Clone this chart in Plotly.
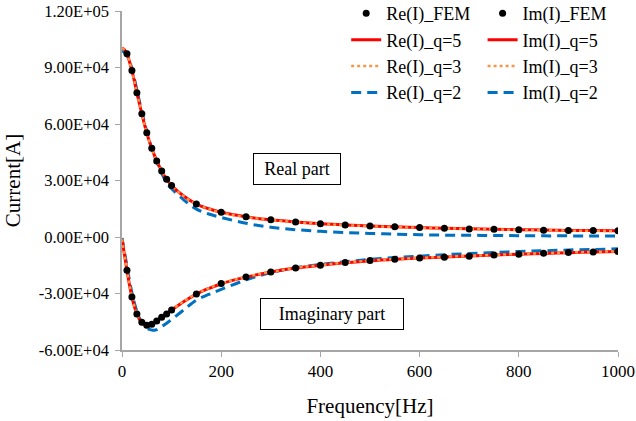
import plotly.graph_objects as go

# FEM sample points
f_fem = [10, 20, 30, 40, 50, 60, 70, 80, 90, 100, 150, 200, 250, 300, 350, 400, 450,
         500, 550, 600, 650, 700, 750, 800, 850, 900, 950, 1000]
re_fem = [97300, 88400, 76600, 65400, 55300, 47100, 40400, 35000, 30700, 27300, 17500,
          13100, 10700, 9100, 8000, 7000, 6400, 5900, 5500, 5000, 4600, 4300, 4100,
          3800, 3600, 3400, 3400, 3300]
im_fem = [-17700, -31900, -40900, -45200, -46800, -46300, -44600, -42600, -40900, -38800,
          -30200, -24700, -21300, -18600, -16400, -15000, -13600, -12500, -11800, -11200,
          -10700, -10200, -9500, -9100, -8600, -8200, -8000, -7700]

# curve frequencies
f_curve = [0, 5, 10, 15, 20, 25, 30, 35, 40, 45, 50, 55, 60, 65, 70, 75, 80, 85, 90, 95, 100,
           125, 150, 175, 200, 250, 300, 350, 400, 450, 500, 550, 600, 650, 700, 750, 800,
           850, 900, 950, 1000]

re_q5 = [100400, 99400, 97300, 93200, 88400, 82600, 76600, 70900, 65400, 60100, 55300,
         50900, 47100, 43600, 40400, 37600, 35000, 32700, 30700, 28900, 27300, 21600, 17500,
         15000, 13100, 10700, 9100, 8000, 7100, 6400, 5900, 5400, 5000, 4700, 4400, 4100,
         3900, 3700, 3500, 3400, 3300]
re_q3 = [100300, 99300, 97200, 93100, 88300, 82500, 76500, 70800, 65300, 60000, 55200,
         50800, 47000, 43500, 40300, 37500, 34900, 32600, 30600, 28800, 27200, 21500, 17400,
         14900, 13000, 10600, 9000, 7900, 7000, 6300, 5800, 5300, 4900, 4600, 4300, 4000,
         3800, 3600, 3400, 3300, 3200]
re_q2 = [98800, 98000, 96500, 93500, 89300, 84000, 78000, 72200, 66500, 61000, 56000,
         51300, 47200, 43400, 40000, 36800, 33900, 31200, 28800, 27000, 25600, 19600, 14800,
         12200, 10400, 7300, 5200, 3900, 3000, 2400, 1900, 1500, 1200, 1000, 900, 800,
         700, 600, 600, 500, 500]

im_q5 = [-1000, -9500, -17700, -25300, -31900, -37000, -40900, -43600, -45300, -46300,
         -46800, -46700, -46300, -45500, -44600, -43600, -42600, -41600, -40700, -39700,
         -38800, -34200, -30300, -27300, -24800, -21300, -18600, -16500, -15000, -13700,
         -12600, -11800, -11200, -10600, -10100, -9600, -9100, -8700, -8300, -8000, -7700]
im_q3 = [-1000, -9400, -17600, -25200, -31800, -36900, -40800, -43500, -45200, -46200,
         -46700, -46600, -46200, -45400, -44500, -43500, -42500, -41500, -40600, -39600,
         -38700, -34100, -30200, -27200, -24700, -21200, -18500, -16400, -14900, -13600,
         -12500, -11700, -11100, -10500, -10000, -9500, -9000, -8600, -8200, -7900, -7600]
im_q2 = [-500, -8000, -15500, -23000, -29500, -35000, -39500, -43000, -45500, -47300,
         -48400, -49100, -49400, -49500, -49200, -48500, -47600, -46700, -45800, -44800,
         -43800, -38600, -33500, -30500, -27800, -22800, -18900, -16300, -14600, -13100,
         -11900, -10900, -10200, -9400, -8800, -8200, -7700, -7300, -6900, -6600, -6300]

ytick_vals = [-60000, -30000, 0, 30000, 60000, 90000, 120000]
ytick_text = ["-6.00E+04", "-3.00E+04", "0.00E+00", "3.00E+04", "6.00E+04", "9.00E+04", "1.20E+05"]
xtick_vals = [0, 200, 400, 600, 800, 1000]

RED = "#FF0000"
ORANGE = "#F79646"
BLUE = "#0070C0"
FONT = "'Liberation Serif', 'Times New Roman', Times, serif"

fig = go.Figure()

def curve(x, y, name, color, dash, width, legend, rank):
    fig.add_trace(go.Scatter(x=x, y=y, mode="lines", name=name, legend=legend,
                             legendrank=rank,
                             line=dict(color=color, dash=dash, width=width, shape="spline")))

# draw order: q=2 under, then q=5, q=3, FEM points on top
curve(f_curve, re_q2, "Re(I)_q=2", BLUE, "10px,6px", 3, "legend", 4)
curve(f_curve, im_q2, "Im(I)_q=2", BLUE, "10px,6px", 3, "legend2", 4)
curve(f_curve, re_q5, "Re(I)_q=5", RED, "solid", 3, "legend", 2)
curve(f_curve, im_q5, "Im(I)_q=5", RED, "solid", 3, "legend2", 2)
curve(f_curve, re_q3, "Re(I)_q=3", ORANGE, "dot", 2.5, "legend", 3)
curve(f_curve, im_q3, "Im(I)_q=3", ORANGE, "dot", 2.5, "legend2", 3)
fig.add_trace(go.Scatter(x=f_fem, y=re_fem, mode="markers", name="Re(I)_FEM", legend="legend",
                         legendrank=1, marker=dict(color="black", size=7)))
fig.add_trace(go.Scatter(x=f_fem, y=im_fem, mode="markers", name="Im(I)_FEM", legend="legend2",
                         legendrank=1, marker=dict(color="black", size=7)))

legend_common = dict(font=dict(family=FONT, size=18, color="black"), bgcolor="rgba(0,0,0,0)",
                     yanchor="top", xanchor="left", y=1.047, tracegroupgap=0)

fig.update_layout(
    width=636, height=421,
    margin=dict(l=122, r=18, t=11, b=71, autoexpand=False),
    paper_bgcolor="white", plot_bgcolor="white",
    font=dict(family=FONT, size=17, color="black"),
    showlegend=True,
    legend=dict(x=0.452, **legend_common),
    legend2=dict(x=0.727, **legend_common),
    xaxis=dict(range=[0, 1000], tickvals=xtick_vals, showgrid=False, zeroline=False,
               showline=True, linecolor="#A6A6A6", linewidth=1.5, ticks="outside",
               tickcolor="#A6A6A6", ticklen=5, tickfont=dict(family=FONT, size=17),
               automargin=False,
               title=dict(text="Frequency[Hz]", font=dict(family=FONT, size=21), standoff=18)),
    yaxis=dict(range=[-60000, 120000], tickvals=ytick_vals, ticktext=ytick_text,
               showgrid=False, zeroline=False, showline=True, linecolor="#A6A6A6",
               linewidth=1.5, ticks="outside", tickcolor="#A6A6A6", ticklen=5,
               tickfont=dict(family=FONT, size=16.5), automargin=False, ticklabelstandoff=3,
               title=dict(text="Current[A]", font=dict(family=FONT, size=21), standoff=12)),
    annotations=[
        dict(x=352, y=36000, xref="x", yref="y", text="Real part", showarrow=False,
             font=dict(family=FONT, size=18, color="black"), bordercolor="black",
             borderwidth=1, width=84, height=28, bgcolor="white"),
        dict(x=423, y=-40700, xref="x", yref="y", text="Imaginary part", showarrow=False,
             font=dict(family=FONT, size=18, color="black"), bordercolor="black",
             borderwidth=1, width=140, height=28, bgcolor="white"),
    ],
)

fig.write_html("out.html", config={"displayModeBar": False},
               post_script="document.body.style.margin='0';document.body.style.overflow='hidden';")
